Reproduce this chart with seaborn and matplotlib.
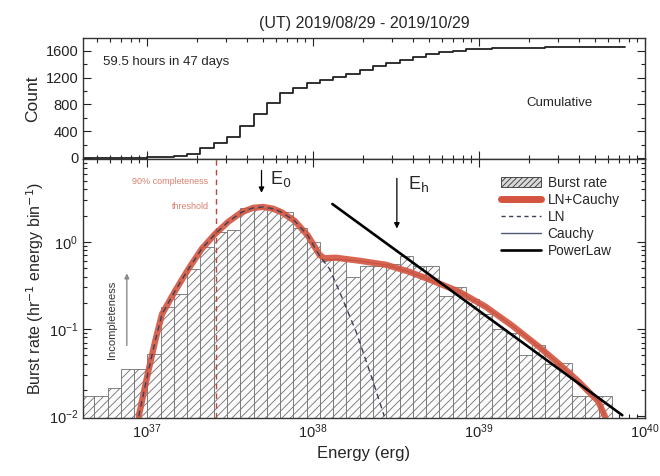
import numpy as np
import pandas as pd
import matplotlib
matplotlib.use("Agg")
import matplotlib.pyplot as plt
import seaborn as sns
from matplotlib.ticker import LogLocator, MultipleLocator, NullFormatter
from matplotlib.patches import Patch
from matplotlib.lines import Line2D

# energy bins in log10(E / erg)
first_edge = 36.602
bin_width = 0.08

# burst rate per bin (hr^-1 energy bin^-1)
burst_rate = [0.017, 0.017, 0.021, 0.035, 0.035, 0.051, 0.18, 0.25, 0.49, 0.87,
              1.30, 1.37, 2.45, 2.45, 2.40, 2.2, 1.45, 1.0, 0.64, 0.64,
              0.40, 0.53, 0.53, 0.55, 0.69, 0.53, 0.53, 0.24, 0.30, 0.22,
              0.15, 0.10, 0.089, 0.050, 0.065, 0.040, 0.041, 0.017, 0.017, 0.017]

# cumulative burst count, stepping at each bin's left edge
cum_count = [0, 1, 2, 4, 6, 9, 20, 35, 60, 148,
             222, 311, 480, 657, 825, 973, 1052, 1121, 1170, 1210,
             1260, 1319, 1367, 1416, 1467, 1505, 1545, 1580, 1604, 1622,
             1632, 1640, 1645, 1647, 1649, 1650, 1651, 1651, 1652, 1652, 1652, 1652]

# fitted curves (log10 E, log10 rate)
lnc_logE = [36.95, 37.00, 37.05, 37.09, 37.17, 37.25, 37.33, 37.41, 37.49, 37.57,
            37.64, 37.70, 37.76, 37.81, 37.89, 37.97, 38.04, 38.07, 38.10, 38.14,
            38.28, 38.44, 38.58, 38.72, 38.88, 39.04, 39.20, 39.36, 39.48, 39.60,
            39.72, 39.76]
lnc_logR = [-2.0, -1.55, -1.13, -0.83, -0.56, -0.31, -0.08, 0.09, 0.23, 0.34,
            0.39, 0.40, 0.38, 0.34, 0.24, 0.07, -0.15, -0.19, -0.185, -0.183,
            -0.217, -0.263, -0.343, -0.446, -0.571, -0.743, -0.96, -1.2, -1.394, -1.6,
            -1.83, -2.0]

ln_logE = [36.95, 37.00, 37.05, 37.09, 37.17, 37.25, 37.33, 37.41, 37.49, 37.57,
           37.64, 37.70, 37.76, 37.81, 37.89, 37.97, 38.04, 38.10, 38.16, 38.26,
           38.35, 38.43]
ln_logR = [-2.0, -1.55, -1.13, -0.83, -0.56, -0.31, -0.08, 0.09, 0.23, 0.34,
           0.39, 0.40, 0.38, 0.34, 0.24, 0.07, -0.16, -0.31, -0.57, -1.03,
           -1.53, -2.0]

cauchy_logE = [38.06, 38.10, 38.14, 38.28, 38.44, 38.58, 38.72, 38.88, 39.04, 39.20,
               39.36, 39.48, 39.60, 39.72, 39.76]
cauchy_logR = [-0.23, -0.21, -0.20, -0.22, -0.265, -0.345, -0.447, -0.572, -0.745, -0.96,
               -1.2, -1.395, -1.6, -1.83, -2.0]

pl_logE = [38.117, 39.865]
pl_logR = [0.434, -1.989]

threshold_logE = 37.416
e0_logE = 37.69
eh_logE = 38.506

sns.set_theme(style="ticks")
plt.rcParams["font.family"] = ["Liberation Sans", "DejaVu Sans"]
plt.rcParams["hatch.linewidth"] = 0.6

fig = plt.figure(figsize=(6.6, 4.76), dpi=100)
ax_top = fig.add_axes([0.1258, 0.666, 0.851, 0.254])
ax = fig.add_axes([0.1258, 0.122, 0.851, 0.544])

xlo, xhi = 10 ** 36.614, 10 ** 40.0

n = len(burst_rate)
edges = 10 ** (first_edge + bin_width * np.arange(n + 3))
left = edges[:n]
widths = edges[1:n + 1] - edges[:n]

# --- top panel: cumulative counts
cum_df = pd.DataFrame({"E": edges[:len(cum_count)], "count": cum_count})
sns.lineplot(data=cum_df, x="E", y="count", ax=ax_top, color="#222222",
             lw=1.3, drawstyle="steps-post", estimator=None, sort=False)
ax_top.set_xscale("log")
ax_top.set_xlim(xlo, xhi)
ax_top.set_ylim(-15, 1790)
ax_top.yaxis.set_major_locator(MultipleLocator(400))
ax_top.yaxis.set_minor_locator(MultipleLocator(200))
ax_top.set_xlabel("")
ax_top.set_ylabel("Count", fontsize=12.5, labelpad=4)
ax_top.tick_params(axis="x", labelbottom=False)
ax_top.set_title("(UT) 2019/08/29 - 2019/10/29", fontsize=11.5, pad=7)
ax_top.text(0.036, 0.80, "59.5 hours in 47 days", transform=ax_top.transAxes,
            fontsize=9.5, va="center", ha="left")
ax_top.text(0.79, 0.46, "Cumulative", transform=ax_top.transAxes,
            fontsize=9.5, va="center", ha="left")

# --- bottom panel: burst rate histogram and fits
ax.bar(left, np.array(burst_rate) - 1e-4, width=widths, bottom=1e-4, align="edge",
       facecolor="#fbfbfb", edgecolor="#707070", linewidth=0.6, hatch="////")

lnc = pd.DataFrame({"E": 10 ** np.array(lnc_logE), "R": 10 ** np.array(lnc_logR)})
ln = pd.DataFrame({"E": 10 ** np.array(ln_logE), "R": 10 ** np.array(ln_logR)})
cau = pd.DataFrame({"E": 10 ** np.array(cauchy_logE), "R": 10 ** np.array(cauchy_logR)})
pl = pd.DataFrame({"E": 10 ** np.array(pl_logE), "R": 10 ** np.array(pl_logR)})

sns.lineplot(data=cau, x="E", y="R", ax=ax, color="#4d5b78", lw=0.9, estimator=None, sort=False)
sns.lineplot(data=lnc, x="E", y="R", ax=ax, color="#d4543f", lw=4.5, alpha=0.9,
             estimator=None, sort=False, solid_capstyle="round")
sns.lineplot(data=ln, x="E", y="R", ax=ax, color="#3a4058", lw=1.0, ls=(0, (4, 3)),
             estimator=None, sort=False)
sns.lineplot(data=pl, x="E", y="R", ax=ax, color="black", lw=1.9, estimator=None, sort=False)

ax.axvline(10 ** threshold_logE, color="#b84a3a", lw=1.0, ls=(0, (4, 3)))
ax.text(10 ** (threshold_logE - 0.045), 10 ** 0.69, "90% completeness", color="#d9806f",
        fontsize=6.5, ha="right", va="center")
ax.text(10 ** (threshold_logE - 0.045), 10 ** 0.41, "threshold", color="#d9806f",
        fontsize=6.5, ha="right", va="center")

ax.annotate("", xy=(10 ** e0_logE, 10 ** 0.53), xytext=(10 ** e0_logE, 10 ** 0.85),
            arrowprops=dict(arrowstyle="-|>", color="black", lw=0.9, mutation_scale=8))
ax.text(10 ** (e0_logE + 0.05), 10 ** 0.72, r"E$_{\mathrm{0}}$", fontsize=13,
        ha="left", va="center")
ax.annotate("", xy=(10 ** eh_logE, 10 ** 0.12), xytext=(10 ** eh_logE, 10 ** 0.76),
            arrowprops=dict(arrowstyle="-|>", color="black", lw=0.9, mutation_scale=8))
ax.text(10 ** (eh_logE + 0.07), 10 ** 0.66, r"E$_{\mathrm{h}}$", fontsize=13,
        ha="left", va="center")

ax.annotate("", xy=(10 ** 36.878, 10 ** -0.33), xytext=(10 ** 36.878, 10 ** -1.22),
            arrowprops=dict(arrowstyle="-|>", color="#8a8a8a", lw=1.0, mutation_scale=7))
ax.text(10 ** 36.79, 10 ** -0.9, "Incompleteness", rotation=90, fontsize=8,
        ha="center", va="center", color="#333333")

ax.set_xscale("log")
ax.set_yscale("log")
ax.set_xlim(xlo, xhi)
ax.set_ylim(10 ** -2.02, 10 ** 0.95)
ax.xaxis.set_major_locator(LogLocator(base=10, numticks=10))
ax.xaxis.set_minor_locator(LogLocator(base=10, subs=np.arange(2, 10), numticks=20))
ax.xaxis.set_minor_formatter(NullFormatter())
ax.yaxis.set_minor_locator(LogLocator(base=10, subs=np.arange(2, 10), numticks=20))
ax.yaxis.set_minor_formatter(NullFormatter())
ax.set_xlabel("Energy (erg)", fontsize=12, labelpad=3)
ax.set_ylabel("Burst rate (hr$^{-1}$ energy bin$^{-1}$)", fontsize=11.5, labelpad=2)

for a in (ax_top, ax):
    a.tick_params(which="both", direction="in", top=True, right=True, width=0.8,
                  labelsize=10.5, colors="#222222")
    a.tick_params(which="major", length=6)
    a.tick_params(which="minor", length=3)
    for s in a.spines.values():
        s.set_linewidth(1.0)
        s.set_color("#333333")
ax_top.xaxis.set_major_locator(LogLocator(base=10, numticks=10))
ax_top.xaxis.set_minor_locator(LogLocator(base=10, subs=np.arange(2, 10), numticks=20))
ax_top.xaxis.set_minor_formatter(NullFormatter())

handles = [
    Patch(facecolor="#d8d8d8", edgecolor="#333333", hatch="//////", lw=0.6),
    Line2D([], [], color="#d4543f", lw=5),
    Line2D([], [], color="#3a4058", lw=1.0, ls=(0, (3, 2.5))),
    Line2D([], [], color="#4d5b78", lw=1.0),
    Line2D([], [], color="black", lw=1.9),
]
labels = ["Burst rate", "LN+Cauchy", "LN", "Cauchy", "PowerLaw"]
ax.legend(handles, labels, loc="upper left", bbox_to_anchor=(0.745, 0.935),
          frameon=False, fontsize=9.8, handlelength=2.9, handleheight=0.7,
          handletextpad=0.5, labelspacing=0.22, borderaxespad=0, borderpad=0)

fig.savefig("out.png", dpi=100)
